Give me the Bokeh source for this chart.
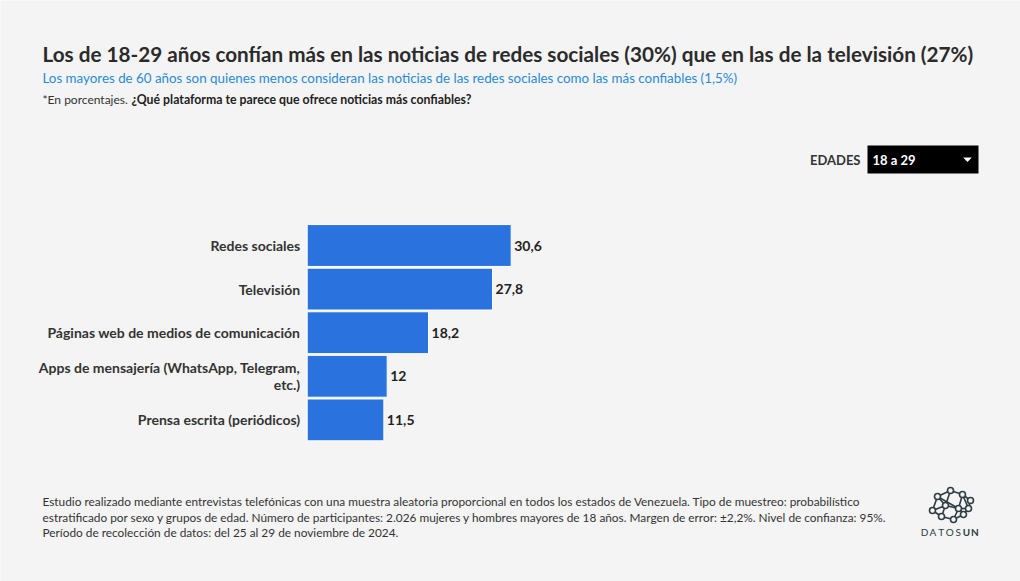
from bokeh.plotting import figure
from bokeh.models import Range1d, Label, ColumnDataSource
from bokeh.embed import file_html
from bokeh.resources import INLINE
from bokeh.core.properties import value

# ---- data ----
categories = [
    "Redes sociales",
    "Televisión",
    "Páginas web de medios de comunicación",
    "Apps de mensajería (WhatsApp, Telegram,\netc.)",
    "Prensa escrita (periódicos)",
]
values = [30.6, 27.8, 18.2, 12, 11.5]
value_labels = [("%g" % v).replace(".", ",") for v in values]

title = "Los de 18-29 años confían más en las noticias de redes sociales (30%) que en las de la televisión (27%)"
subtitle = "Los mayores de 60 años son quienes menos consideran las noticias de las redes sociales como las más confiables (1,5%)"
note_a = "*En porcentajes."
note_b = "¿Qué plataforma te parece que ofrece noticias más confiables?"
footer = [
    "Estudio realizado mediante entrevistas telefónicas con una muestra aleatoria proporcional en todos los estados de Venezuela. Tipo de muestreo: probabilístico",
    "estratificado por sexo y grupos de edad. Número de participantes: 2.026 mujeres y hombres mayores de 18 años. Margen de error: ±2,2%. Nivel de confianza: 95%.",
    "Período de recolección de datos: del 25 al 29 de noviembre de 2024.",
]
dropdown_label = "EDADES"
dropdown_value = "18 a 29"

# ---- layout constants ----
W, H = 1020, 581
FONT = "Lato"
BG = "#f4f4f4"
BAR = "#2a73de"
DARK = "#333333"
bar_left_px = 306.7
px_per_unit = 204 / 30.6
row0_px = 245.0
row_step = 43.6

x0 = -bar_left_px / px_per_unit
x1 = (W - bar_left_px) / px_per_unit
y_top = -row0_px / row_step
y_bot = (H - row0_px) / row_step

p = figure(width=W, height=H, output_backend="svg", toolbar_location=None,
           x_range=Range1d(x0, x1), y_range=Range1d(y_bot, y_top),
           x_axis_location=None, y_axis_location=None, min_border=0,
           background_fill_color=BG, border_fill_color=BG, outline_line_color=None)
p.grid.visible = False
p.extra_x_ranges = {"px": Range1d(0, W)}
p.extra_y_ranges = {"py": Range1d(H, 0)}

src = ColumnDataSource(dict(cat=categories, val=values, lab=value_labels,
                            y=list(range(len(values)))))

p.hbar(y="y", left=0, right="val", height=0.96, source=src,
       fill_color=BAR, line_color="white", line_width=1)

p.text(x=0, y="y", text="cat", source=src, x_offset=-7, text_align="right",
       text_baseline="middle", text_font=value(FONT), text_font_style="bold",
       text_font_size="14px", text_color=DARK, text_line_height=1.0)
p.text(x="val", y="y", text="lab", source=src, x_offset=3, text_align="left",
       text_baseline="middle", text_font=value(FONT), text_font_style="bold",
       text_font_size="14px", text_color="#222222")


def lab(x, y, text, size, color=DARK, style="normal", align="left"):
    p.add_layout(Label(x=x, y=y, text=text, x_range_name="px", y_range_name="py",
                       text_font=FONT, text_font_size=size, text_color=color,
                       text_font_style=style, text_align=align, text_baseline="middle"))


lab(42, 53, title, "20.7px", "#2b2b2b", "bold")
lab(42, 77, subtitle, "13.35px", "#2a8bd2")
lab(42, 99, note_a, "12px", DARK)
lab(131, 99, note_b, "12.3px", "#222222", "bold")

# dropdown
p.quad(left=[867], right=[978], top=[145], bottom=[173], fill_color="black",
       line_color=None, x_range_name="px", y_range_name="py")
lab(860, 159, dropdown_label, "13px", DARK, "bold", "right")
lab(872, 159, dropdown_value, "13px", "white", "bold")
p.patch(x=[962.7, 971.3, 967], y=[157, 157, 161.5], fill_color="white",
        line_color=None, x_range_name="px", y_range_name="py")

# footer
for i, line in enumerate(footer):
    lab(42, 501 + i * 15.5, line, "11.85px", DARK)

# logo
nodes_x = [950, 962, 937, 932, 945, 958, 968, 953, 941, 963, 970]
nodes_y = [490, 494, 496, 510, 505, 508, 508, 519, 516, 514, 500]
edges = [(0, 1), (0, 2), (0, 4), (1, 10), (1, 5), (2, 3), (2, 4), (3, 4), (3, 8),
         (4, 5), (4, 8), (5, 6), (5, 7), (5, 9), (6, 9), (6, 10), (7, 8), (7, 9),
         (1, 6), (2, 5)]
p.segment(x0=[nodes_x[a] for a, b in edges], y0=[nodes_y[a] for a, b in edges],
          x1=[nodes_x[b] for a, b in edges], y1=[nodes_y[b] for a, b in edges],
          line_color="#2e3d44", line_width=1.6, x_range_name="px", y_range_name="py")
p.scatter(x=nodes_x, y=nodes_y, size=6, fill_color=BG, line_color="#2e3d44",
          line_width=1.6, x_range_name="px", y_range_name="py")
logo_letters = list("DATOSUN")
for i, ch in enumerate(logo_letters):
    lab(924 + i * 8.4, 531, ch, "10px", "#2e3d44", "bold" if i >= 5 else "normal", "center")

open("out.html", "w").write(file_html(p, INLINE))
